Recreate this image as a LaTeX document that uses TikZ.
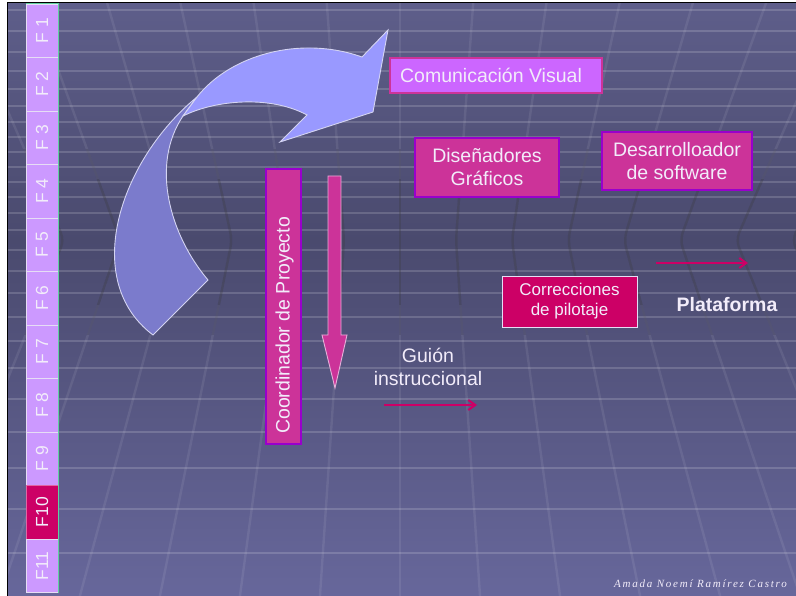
\documentclass[tikz,border=0pt]{standalone}
\usepackage{fontspec}
\setmainfont{Liberation Sans}
\newfontfamily\sigfont[LetterSpace=16]{Liberation Serif}
\usetikzlibrary{arrows.meta}

\definecolor{bgtop}{HTML}{5E5E8A}
\definecolor{bgmid}{HTML}{4A4A6E}
\definecolor{bgbot}{HTML}{67679B}
\definecolor{lilac}{HTML}{CC99FF}
\definecolor{cellline}{HTML}{E6DDF5}
\definecolor{cellgreen}{HTML}{5FD0A0}
\definecolor{rosa}{HTML}{CC0066}
\definecolor{orchid}{HTML}{CC3399}
\definecolor{boxedge}{HTML}{9900CC}
\definecolor{lavbox}{HTML}{CC66FF}
\definecolor{arrlight}{HTML}{9999FF}
\definecolor{arrdark}{HTML}{7B7BCC}
\definecolor{arredge}{HTML}{D4D4F2}
\definecolor{blockedge}{HTML}{E6B0DA}
\definecolor{txt}{HTML}{F2ECFA}

\tikzset{
  hline/.style={draw=white, draw opacity=0.16, line width=1.4pt},
  pline/.style={draw=white, draw opacity=0.08, line width=2.4pt, rounded corners=8pt},
  pdark/.style={draw=black, draw opacity=0.11, line width=2.4pt, rounded corners=8pt},
  fcell/.style={draw=cellline, line width=0.8pt, fill=lilac, rotate=90,
    minimum width=53.5pt, minimum height=32pt, inner sep=0pt, text=txt,
    font=\fontsize{17.5}{20}\selectfont},
  fcur/.style={fcell, fill=rosa, draw=rosa!60!white},
  lbl/.style={text=txt, inner sep=0pt, align=center,
    font=\fontsize{19.5}{23}\selectfont},
  lavnode/.style={lbl, fill=lavbox, draw=orchid, line width=2pt},
  pinknode/.style={lbl, fill=orchid, draw=boxedge, line width=2pt},
  rosanode/.style={lbl, fill=rosa, draw=cellline, line width=0.9pt,
    font=\fontsize{17}{20}\selectfont},
  pinkarrow/.style={draw=rosa, line width=2.2pt,
    -{Straight Barb[length=7pt,width=10pt,line width=2pt]}},
}

\newcommand\gridrays[1]{%
  \foreach \k in {-9,...,9}{
    \pgfmathsetmacro\xo{400+56*\k}
    \pgfmathsetmacro\xt{\xo+(\xo-400)*0.0013*240}
    \pgfmathsetmacro\xb{\xo+(\xo-400)*0.0012*356}
    \draw[#1] (\xt,0) -- (\xo,240) -- (\xb,596);
  }}

\begin{document}
\begin{tikzpicture}[x=1pt,y=-1pt]
\useasboundingbox (0,0) rectangle (796,596);
\fill[white] (0,0) rectangle (796,596);

% slide background
\shade[top color=bgtop, bottom color=bgmid] (8,3) rectangle (796,240.5);
\shade[top color=bgmid, bottom color=bgbot] (8,240) rectangle (796,596);

\begin{scope}
  \clip (8,3) rectangle (796,596);
  % floor and ceiling grid
  \foreach \yy in {10,31,52,71,89,106,122,137,152,167,182,197,213,230,250,271,293,317,341,368,399,432,468,509,553}
    \draw[hline] (8,\yy) -- (796,\yy);
  \gridrays{pline}
  % darker rays around the horizon, fading out
  \begin{scope}
    \clip (8,150) rectangle (796,335);
    \gridrays{pdark}
  \end{scope}
  \begin{scope}
    \clip (8,180) rectangle (796,305);
    \gridrays{pdark}
  \end{scope}
\end{scope}

% slide frame
\draw[black, line width=1pt] (7.5,596) -- (7.5,2.5) -- (796,2.5);

% phase bar F1 .. F11
\foreach \i in {1,...,9}
  \node[fcell] (f\i) at (42,{4+53.5*(\i-0.5)}) {F \i};
\node[fcur] (f10) at (42,{4+53.5*9.5}) {F10};
\node[fcell] (f11) at (42,{4+53.5*10.5}) {F11};
\draw[cellgreen, line width=1.2pt] (58.5,4) -- (58.5,593);
\draw[cellgreen, line width=1pt] (26,4) -- (58.5,4);

% curved block arrow (back half, then front half)
\fill[arrdark, draw=arredge, line width=0.9pt]
  (197,97) .. controls (120,160) and (80,280) .. (153,335)
  -- (208,280) .. controls (170,235) and (150,165) .. (183,116) -- cycle;
\fill[arrlight, draw=arredge, line width=0.9pt]
  (183,116) .. controls (215,100) and (270,95) .. (307,115)
  -- (280,142) -- (373,112) -- (388,30) -- (362,57)
  .. controls (300,35) and (230,55) .. (197,97) -- cycle;

% project coordinator bar
\node[pinknode, rotate=90, minimum width=275pt, minimum height=35pt] (coord) at (283.5,306.5) {};
\node[lbl, rotate=90, anchor=west] (coordtxt) at (284.5,434) {Coordinador de Proyecto};

% downward block arrow
\fill[orchid, draw=blockedge, line width=0.9pt]
  (328,176) -- (341,176) -- (341,335) -- (347,335) -- (335,388)
  -- (322,335) -- (328,335) -- cycle;

% boxes
\node[lavnode, minimum width=212pt, minimum height=35pt] (comvis) at (496,75.5) {Comunicación Visual\hspace{10pt}};
\node[pinknode, minimum width=144pt, minimum height=59pt] (dis) at (487,167.5) {Diseñadores\\Gráficos};
\node[pinknode, minimum width=150pt, minimum height=58pt] (dev) at (677,161) {Desarrolloador\\de software};
\node[rosanode, minimum width=135pt, minimum height=51pt] (cor) at (569.5,301.5) {Correcciones\\de pilotaje};

% free labels
\node[lbl] (guion) at (428,366.5) {Guión\\instruccional};
\node[lbl, font=\fontsize{19.5}{23}\selectfont\bfseries] (plat) at (727,305) {Plataforma};

% short arrows
\coordinate (pa1) at (656,263);
\coordinate (pa2) at (748,263);
\draw[pinkarrow] (pa1) -- (pa2);
\coordinate (pb1) at (384,405);
\coordinate (pb2) at (477,405);
\draw[pinkarrow] (pb1) -- (pb2);

% signature
\node[text=txt, inner sep=0pt, anchor=east] (firma) at (787,584)
  {\sigfont\itshape\fontsize{11}{13}\selectfont Amada Noemí Ramírez Castro};
\end{tikzpicture}
\end{document}
